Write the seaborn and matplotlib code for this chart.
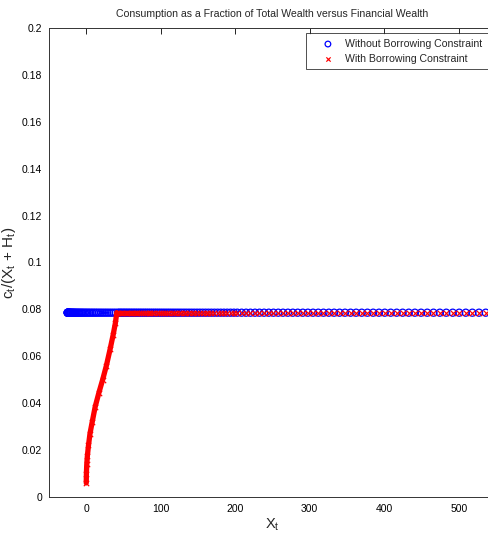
import matplotlib
matplotlib.use("Agg")
import matplotlib.pyplot as plt
import seaborn as sns
import pandas as pd

# ---- data ----
grid_x = [-25.0, -25.0, -24.9, -24.7, -24.4, -24.1, -23.7, -23.2, -22.7, -22.0,
          -21.4, -20.6, -19.7, -18.8, -17.8, -16.8, -15.7, -14.5, -13.2, -11.8,
          -10.4, -8.9, -7.3, -5.7, -4.0, -2.2, -0.3, 1.6, 3.6, 5.7,
          7.9, 10.1, 12.4, 14.7, 17.2, 19.7, 22.3, 25.0, 27.7, 30.5,
          33.4, 36.4, 39.4, 42.5, 44.5, 46.5, 48.6, 50.7, 52.8, 55.0,
          57.2, 59.4, 61.7, 64.0, 66.3, 68.7, 71.1, 73.5, 76.0, 78.5,
          81.0, 83.6, 86.2, 88.9, 91.6, 94.3, 97.1, 99.9, 102.8, 105.7,
          108.7, 111.7, 114.8, 117.9, 121.1, 124.3, 127.6, 131.0, 134.4, 137.9,
          141.4, 145.0, 148.7, 152.4, 156.2, 160.1, 164.0, 168.0, 172.1, 176.3,
          180.5, 184.8, 189.2, 193.7, 198.2, 202.8,
          208.6, 214.5, 220.4, 226.5, 232.5, 238.7, 245.0, 251.3, 257.7, 264.1,
          270.7, 277.3, 283.9, 290.7, 297.5, 304.4, 311.4, 318.4, 325.6, 332.7,
          340.0, 347.3, 354.8, 362.2, 369.8, 377.4, 385.1, 392.9, 400.7, 408.7,
          416.7, 424.7, 432.9, 441.1, 449.4, 457.7, 466.1, 474.6, 483.2, 491.9,
          500.6, 509.4, 518.3, 527.2, 536.2, 545.3]
flat_level = 0.0786

red_curve_x = [0.0, 0.2, 0.7, 1.5, 3.0, 5.0, 8.0, 12.0, 17.0, 22.0, 27.0, 32.0, 36.0, 39.0, 41.0]
red_curve_y = [0.0060, 0.0100, 0.0140, 0.0175, 0.0220, 0.0270, 0.0320, 0.0385,
               0.0445, 0.0500, 0.0560, 0.0630, 0.0690, 0.0740, 0.0786]
kink_x = 41.0

y_ticks = [0, 0.02, 0.04, 0.06, 0.08, 0.1, 0.12, 0.14, 0.16, 0.18, 0.2]
y_labels = ["0", "0.02", "0.04", "0.06", "0.08", "0.1", "0.12", "0.14", "0.16", "0.18", "0.2"]
x_ticks = [0, 100, 200, 300, 400, 500]
x_labels = ["0", "100", "200", "300", "400", "500"]

title = "Consumption as a Fraction of Total Wealth versus Financial Wealth"
label_a = "Without Borrowing Constraint"
label_b = "With Borrowing Constraint"

# ---- build tables ----
blue_df = pd.DataFrame({"x": grid_x, "y": [flat_level] * len(grid_x)})
red_flat = [v for v in grid_x if v > kink_x]
red_x_all = red_curve_x + red_flat
red_y_all = red_curve_y + [flat_level] * len(red_flat)
red_df = pd.DataFrame({"x": red_x_all, "y": red_y_all})
red_curve_df = pd.DataFrame({"x": red_curve_x, "y": red_curve_y})

sns.set_style("white")
plt.rcParams["font.family"] = ["Liberation Sans", "DejaVu Sans"]
plt.rcParams["mathtext.fontset"] = "custom"
plt.rcParams["mathtext.rm"] = "Liberation Sans"
plt.rcParams["mathtext.it"] = "Liberation Sans"

fig = plt.figure(figsize=(4.89, 5.42), dpi=100)
ax = fig.add_axes([49 / 489, 1 - 497 / 542, 447 / 489, (497 - 28) / 542])

sns.scatterplot(data=blue_df, x="x", y="y", ax=ax, marker="o", s=26,
                facecolors="none", edgecolor="#0000ff", linewidth=0.9,
                label=label_a, zorder=2)
sns.lineplot(data=red_curve_df, x="x", y="y", ax=ax, color="#ff0000",
             linewidth=3.8, sort=False, estimator=None, legend=False, zorder=3)
sns.scatterplot(data=red_df, x="x", y="y", ax=ax, marker="x", s=15,
                color="#ff0000", linewidth=0.85, label=label_b, zorder=4)

ax.set_xlim(-50, 550)
ax.set_ylim(0, 0.2)
ax.set_xticks(x_ticks)
ax.set_xticklabels(x_labels)
ax.set_yticks(y_ticks)
ax.set_yticklabels(y_labels)
ax.tick_params(axis="both", direction="in", length=4, width=0.6, labelsize=7.5,
               top=True, right=True, colors="#000000", pad=5)
for sp in ax.spines.values():
    sp.set_color("#333333")
    sp.set_linewidth(0.7)

ax.set_title(title, fontsize=7.6, pad=8)
ax.set_xlabel(r"X$_\mathregular{t}$", fontsize=10.5, labelpad=2)
ax.set_ylabel(r"c$_\mathregular{t}$/(X$_\mathregular{t}$ + H$_\mathregular{t}$)",
              fontsize=11, labelpad=3)

leg = ax.legend(loc="upper right", bbox_to_anchor=(488 / 489, 1 - 33 / 542),
                bbox_transform=fig.transFigure, fontsize=7.6, frameon=True,
                fancybox=False, edgecolor="#000000", borderpad=0.55,
                handletextpad=0.1, labelspacing=0.45, handlelength=3.05,
                borderaxespad=0, markerscale=0.8)
leg.get_frame().set_linewidth(0.6)

fig.savefig("out.png", dpi=100)
